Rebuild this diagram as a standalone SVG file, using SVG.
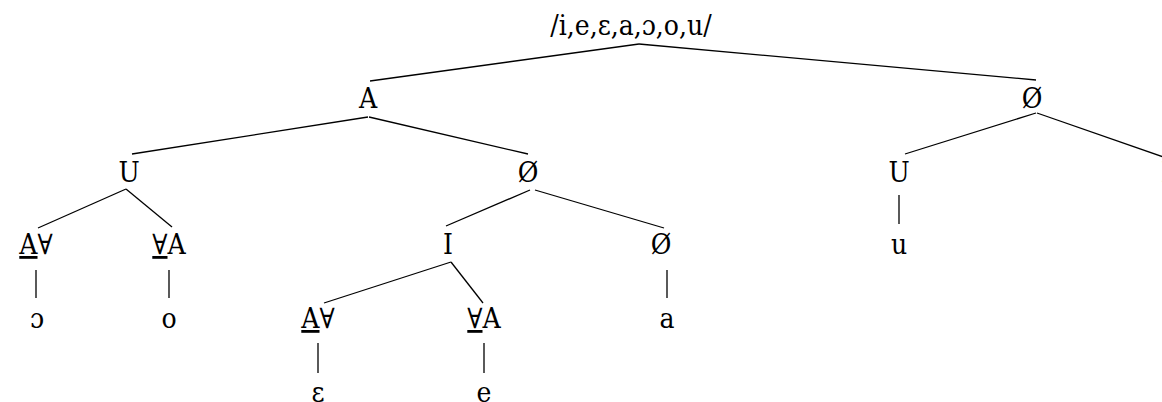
<svg xmlns="http://www.w3.org/2000/svg" width="1162" height="402" viewBox="0 0 1162 402">
<defs>
<style type="text/css">
  .t { font-family: "DejaVu Serif Condensed", "DejaVu Serif", serif; font-stretch: condensed; font-size: 28px; fill: #000; text-anchor: middle; }
  .u { text-decoration: underline; }
  .c line { stroke: #000; stroke-width: 1.3; }
</style>
</defs>
<rect width="1162" height="402" fill="#fff"/>
<g id="connectors" class="c">
  <line x1="639" y1="44" x2="370" y2="81"/>
  <line x1="639" y1="44" x2="1036" y2="80"/>
  <line x1="368" y1="117" x2="132" y2="154"/>
  <line x1="369" y1="117" x2="528" y2="154"/>
  <line x1="1036" y1="113" x2="905" y2="154"/>
  <line x1="1037" y1="113" x2="1175" y2="161"/>
  <line x1="126" y1="189" x2="38" y2="228"/>
  <line x1="126" y1="189" x2="172" y2="227"/>
  <line x1="530" y1="190" x2="446" y2="226"/>
  <line x1="535" y1="190" x2="664" y2="228"/>
  <line x1="451" y1="262" x2="324" y2="303"/>
  <line x1="451" y1="262" x2="483" y2="303"/>
  <line x1="36" y1="270" x2="36" y2="298"/>
  <line x1="169" y1="270" x2="169" y2="298"/>
  <line x1="667" y1="270" x2="667" y2="298"/>
  <line x1="899" y1="195" x2="899" y2="224"/>
  <line x1="318" y1="343" x2="318" y2="373"/>
  <line x1="484" y1="343" x2="484" y2="373"/>
</g>
<g class="t">
<g id="root"><text x="631" y="35">/i,e,ɛ,a,ɔ,o,u/</text></g>
<g id="n-A"><text x="368" y="108">A</text></g>
<g id="n-O1"><text x="1032" y="108">Ø</text></g>
<g id="n-U1"><text x="129" y="182">U</text></g>
<g id="n-O2"><text x="528" y="182">Ø</text></g>
<g id="n-U2"><text x="899" y="182">U</text></g>
<g id="n-I2"><text x="1166" y="182">I</text></g>
<g id="n-AV1"><text x="36" y="254"><tspan class="u">A</tspan>∀</text></g>
<g id="n-o1"><text x="37" y="328">ɔ</text></g>
<g id="n-VA1"><text x="169" y="254"><tspan class="u">∀</tspan>A</text></g>
<g id="n-o2"><text x="169" y="328">o</text></g>
<g id="n-I1"><text x="448" y="254">I</text></g>
<g id="n-O3"><text x="661" y="254">Ø</text></g>
<g id="n-a"><text x="667" y="328">a</text></g>
<g id="n-u"><text x="899" y="254">u</text></g>
<g id="n-AV2"><text x="318" y="328"><tspan class="u">A</tspan>∀</text></g>
<g id="n-e1"><text x="318" y="402">ɛ</text></g>
<g id="n-VA2"><text x="484" y="328"><tspan class="u">∀</tspan>A</text></g>
<g id="n-e2"><text x="484" y="402">e</text></g>
</g>
</svg>
